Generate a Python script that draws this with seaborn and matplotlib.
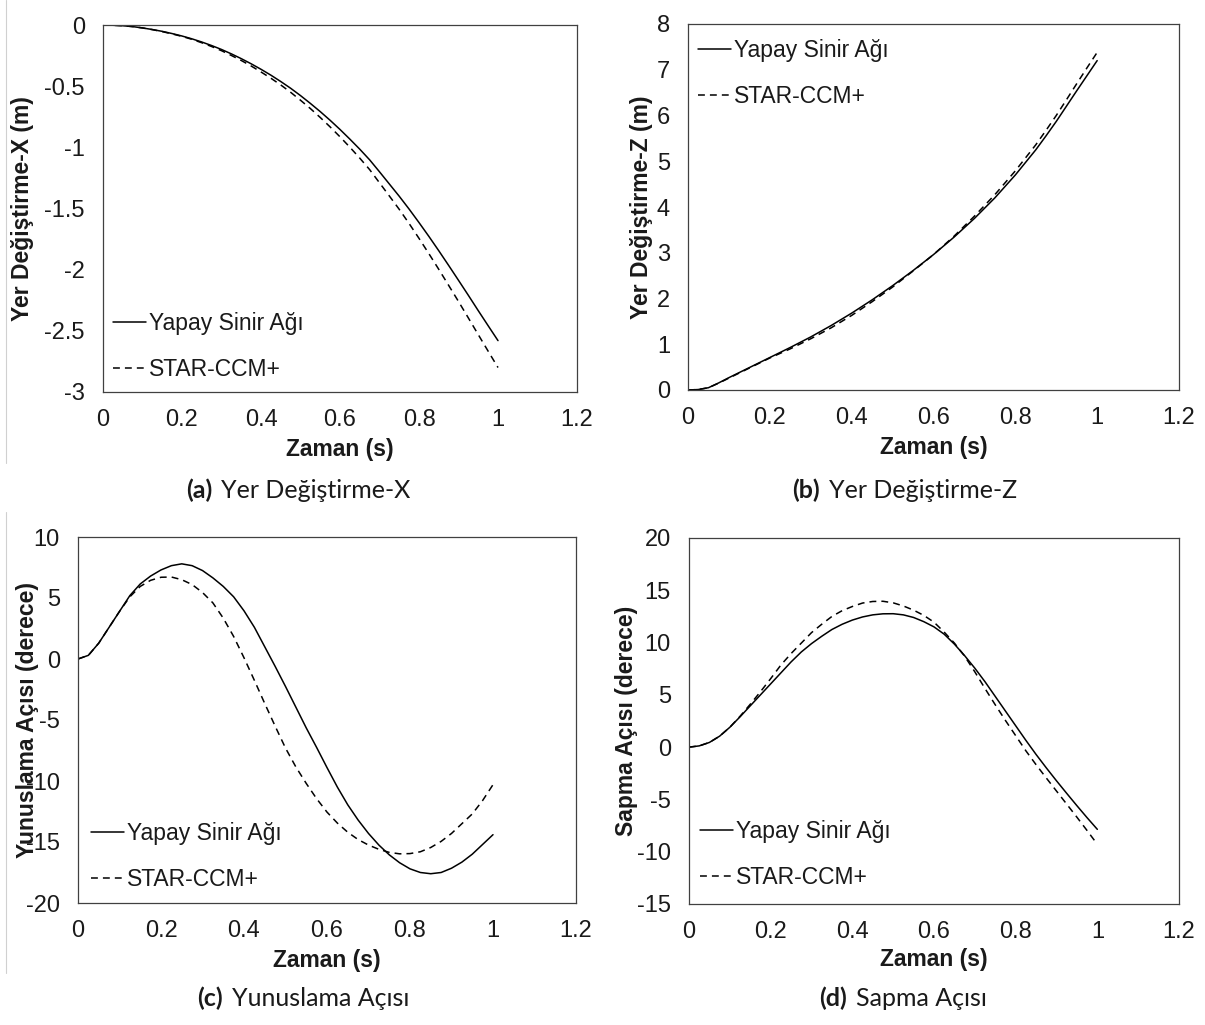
import matplotlib
matplotlib.use("Agg")
import matplotlib.pyplot as plt
import seaborn as sns
from matplotlib.lines import Line2D

# ---------------- data ----------------
t = [0.0, 0.025, 0.05, 0.075, 0.1, 0.125, 0.15, 0.175, 0.2, 0.225, 0.25,
     0.275, 0.3, 0.325, 0.35, 0.375, 0.4, 0.425, 0.45, 0.475, 0.5,
     0.525, 0.55, 0.575, 0.6, 0.625, 0.65, 0.675, 0.7, 0.725, 0.75,
     0.775, 0.8, 0.825, 0.85, 0.875, 0.9, 0.925, 0.95, 0.975, 1.0]

x_ann = [0, -0.002, -0.006, -0.013, -0.024, -0.037, -0.052, -0.07, -0.09, -0.113, -0.139,
         -0.168, -0.2, -0.236, -0.275, -0.317, -0.362, -0.41, -0.462, -0.517, -0.577,
         -0.641, -0.708, -0.779, -0.854, -0.933, -1.015, -1.102, -1.2, -1.3, -1.4,
         -1.505, -1.615, -1.728, -1.845, -1.965, -2.087, -2.21, -2.335, -2.458, -2.58]
x_star = [0, -0.002, -0.006, -0.013, -0.024, -0.038, -0.054, -0.073, -0.093, -0.117, -0.145,
          -0.176, -0.21, -0.249, -0.29, -0.335, -0.384, -0.435, -0.49, -0.55, -0.615,
          -0.683, -0.756, -0.833, -0.914, -0.999, -1.088, -1.182, -1.29, -1.398, -1.507,
          -1.623, -1.744, -1.869, -1.997, -2.128, -2.26, -2.395, -2.531, -2.666, -2.80]

z_ann = [0, 0.01, 0.05, 0.155, 0.27, 0.38, 0.49, 0.60, 0.71, 0.82, 0.93,
         1.045, 1.16, 1.285, 1.41, 1.545, 1.68, 1.825, 1.97, 2.125, 2.28,
         2.445, 2.61, 2.785, 2.96, 3.15, 3.34, 3.545, 3.75, 3.975, 4.20,
         4.45, 4.70, 4.975, 5.25, 5.555, 5.87, 6.205, 6.54, 6.87, 7.20]
z_star = [0, 0.01, 0.05, 0.15, 0.26, 0.37, 0.48, 0.59, 0.70, 0.80, 0.90,
          1.01, 1.12, 1.24, 1.36, 1.495, 1.63, 1.78, 1.93, 2.09, 2.25,
          2.425, 2.60, 2.78, 2.96, 3.16, 3.36, 3.58, 3.80, 4.035, 4.27,
          4.53, 4.79, 5.075, 5.36, 5.675, 6.00, 6.345, 6.695, 7.04, 7.38]

pitch_ann = [0, 0.3, 1.3, 2.6, 3.9, 5.2, 6.15, 6.8, 7.3, 7.65, 7.8,
             7.65, 7.25, 6.65, 5.95, 5.1, 3.95, 2.6, 1.0, -0.6, -2.25,
             -3.95, -5.65, -7.25, -8.9, -10.5, -11.95, -13.2, -14.3, -15.25, -16.05,
             -16.7, -17.2, -17.5, -17.6, -17.5, -17.15, -16.65, -16.0, -15.2, -14.4]
pitch_star = [0, 0.3, 1.3, 2.6, 3.9, 5.1, 5.95, 6.45, 6.7, 6.72, 6.5,
              6.1, 5.45, 4.6, 3.35, 1.85, 0.1, -1.75, -3.65, -5.5, -7.3,
              -8.85, -10.2, -11.45, -12.55, -13.45, -14.2, -14.8, -15.25, -15.6, -15.85,
              -15.97, -15.95, -15.8, -15.45, -14.95, -14.3, -13.5, -12.7, -11.6, -10.3]

yaw_ann = [0, 0.12, 0.45, 1.05, 1.9, 2.9, 3.95, 5.0, 6.05, 7.1, 8.15,
           9.1, 9.9, 10.6, 11.25, 11.75, 12.15, 12.45, 12.65, 12.75, 12.76,
           12.65, 12.4, 12.0, 11.5, 10.8, 9.85, 8.75, 7.55, 6.25, 4.85,
           3.45, 2.05, 0.65, -0.7, -1.98, -3.22, -4.42, -5.6, -6.75, -7.86]
yaw_star = [0, 0.12, 0.45, 1.05, 1.9, 2.95, 4.1, 5.3, 6.55, 7.85, 8.95,
            9.95, 10.95, 11.75, 12.5, 13.05, 13.45, 13.78, 13.93, 13.95, 13.8,
            13.5, 13.1, 12.6, 11.95, 11.0, 9.95, 8.7, 7.2, 5.6, 4.05,
            2.55, 1.1, -0.35, -1.68, -2.95, -4.2, -5.45, -6.7, -7.98, -9.29]

series_names = ["Yapay Sinir Ağı", "STAR-CCM+"]
x_label = "Zaman (s)"
y_labels = ["Yer Değiştirme-X (m)", "Yer Değiştirme-Z (m)",
            "Yunuslama Açısı (derece)", "Sapma Açısı (derece)"]
caption_tags = ["(a)", "(b)", "(c)", "(d)"]
caption_texts = ["Yer Değiştirme-X", "Yer Değiştirme-Z", "Yunuslama Açısı", "Sapma Açısı"]

x_ticks = [0, 0.2, 0.4, 0.6, 0.8, 1.0, 1.2]
x_ticklabels = ["0", "0.2", "0.4", "0.6", "0.8", "1", "1.2"]
y_ticks_list = [
    ([0, -0.5, -1, -1.5, -2, -2.5, -3], ["0", "-0.5", "-1", "-1.5", "-2", "-2.5", "-3"]),
    ([0, 1, 2, 3, 4, 5, 6, 7, 8], ["0", "1", "2", "3", "4", "5", "6", "7", "8"]),
    ([10, 5, 0, -5, -10, -15, -20], ["10", "5", "0", "-5", "-10", "-15", "-20"]),
    ([20, 15, 10, 5, 0, -5, -10, -15], ["20", "15", "10", "5", "0", "-5", "-10", "-15"]),
]
ann_list = [x_ann, z_ann, pitch_ann, yaw_ann]
star_list = [x_star, z_star, pitch_star, yaw_star]

# ---------------- style ----------------
sns.set_theme(style="white")
plt.rcParams["font.family"] = ["Liberation Sans", "DejaVu Sans"]

W, H = 1205, 1025
fig = plt.figure(figsize=(W / 100, H / 100), dpi=100)
fig.patch.set_facecolor("white")

# axes boxes in pixels: left, top, right, bottom
boxes = [(103, 25, 577, 392), (688, 24, 1179, 390), (78, 537, 576, 903), (689, 538, 1179, 904)]
ylabel_x = [-0.169, -0.094, -0.102, -0.127]
xlabel_y = [-0.158, -0.156, -0.156, -0.153]
legend_anchor = [(0.021, 0.124), (0.020, 0.865), (0.026, 0.127), (0.022, 0.135)]
captions_pos = [(298, 490), (905, 490), (303, 998), (903, 998)]

TICK = 17
LAB = 16.5
LEG = 16.5
LW = 1.1
DASH = (4.5, 3.3)

for i in range(4):
    l, tp, r, b = boxes[i]
    ax = fig.add_axes([l / W, 1 - b / H, (r - l) / W, (b - tp) / H])
    sns.lineplot(x=t, y=ann_list[i], ax=ax, color="black", lw=LW, label=series_names[0])
    sns.lineplot(x=t, y=star_list[i], ax=ax, color="black", lw=LW, label=series_names[1])
    ax.lines[1].set_dashes(DASH)
    ax.set_xlim(0, 1.2)
    yt, ytl = y_ticks_list[i]
    ax.set_ylim(min(yt), max(yt))
    ax.set_xticks(x_ticks)
    ax.set_xticklabels(x_ticklabels)
    ax.set_yticks(yt)
    ax.set_yticklabels(ytl)
    ax.tick_params(axis="both", length=0, labelsize=TICK, colors="#1a1a1a")
    ax.tick_params(axis="x", pad=12)
    ax.tick_params(axis="y", pad=13)
    for s in ax.spines.values():
        s.set_visible(True)
        s.set_color("#404040")
        s.set_linewidth(0.9)
    ax.grid(False)
    ax.set_xlabel(x_label, fontsize=LAB, fontweight="bold", color="#1a1a1a")
    ax.set_ylabel(y_labels[i], fontsize=LAB, fontweight="bold", color="#1a1a1a")
    ax.xaxis.set_label_coords(0.5, xlabel_y[i])
    ax.xaxis.label.set_va("center")
    ax.yaxis.set_label_coords(ylabel_x[i], 0.5)
    ax.yaxis.label.set_va("center")
    leg = ax.legend(loc="center left", bbox_to_anchor=legend_anchor[i], frameon=False,
                    fontsize=LEG, handlelength=1.45, handletextpad=0.12, labelspacing=1.0,
                    borderpad=0, borderaxespad=0)
    for h in leg.get_lines():
        h.set_linewidth(LW)
    leg.get_lines()[1].set_dashes(DASH)
    for txt in leg.get_texts():
        txt.set_color("#1a1a1a")

# faint left border lines
fig.add_artist(Line2D([6 / W, 6 / W], [1, 1 - 463 / H], transform=fig.transFigure,
                      color="#d0d0d0", lw=0.8))
fig.add_artist(Line2D([6 / W, 6 / W], [1 - 512 / H, 1 - 973 / H], transform=fig.transFigure,
                      color="#d0d0d0", lw=0.8))

# captions
CAPFONT = ["Lato", "DejaVu Sans"]
CAPSIZE = 18
renderer = fig.canvas.get_renderer()
for i in range(4):
    cx, cy = captions_pos[i]
    t1 = fig.text(0, 0, caption_tags[i], family=CAPFONT, fontweight="bold", fontsize=CAPSIZE,
                  va="center", ha="left", color="#1a1a1a")
    t2 = fig.text(0, 0, caption_texts[i], family=CAPFONT, fontsize=CAPSIZE,
                  va="center", ha="left", color="#1a1a1a")
    w1 = t1.get_window_extent(renderer).width
    w2 = t2.get_window_extent(renderer).width
    gap = 9
    x0 = cx - (w1 + gap + w2) / 2
    t1.set_position((x0 / W, 1 - cy / H))
    t2.set_position(((x0 + w1 + gap) / W, 1 - cy / H))

fig.savefig("out.png", dpi=100, facecolor="white")
